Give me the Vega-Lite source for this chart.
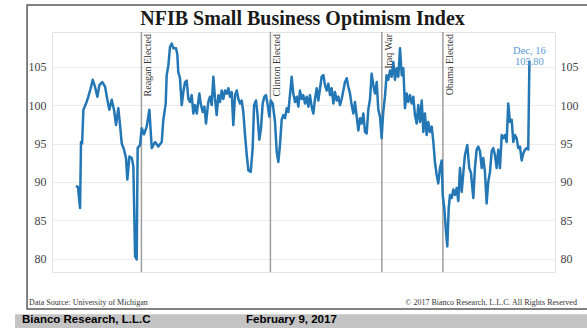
{
  "$schema": "https://vega.github.io/schema/vega-lite/v6.json",
  "width": 503,
  "height": 240,
  "autosize": {"type": "none"},
  "padding": {"left": 52, "top": 32, "right": 32, "bottom": 59},
  "background": "white",
  "config": {
    "view": {"stroke": "#e3e3e3", "strokeWidth": 1},
    "axis": {"labelFont": "Liberation Serif", "labelFontSize": 12, "labelColor": "#444444", "ticks": false, "domain": false, "title": null, "gridColor": "#ececec", "gridWidth": 1}
  },
  "datasets": {
    "nfib": [
      {"year":1974.77,"index":89.5},{"year":1974.95,"index":89.3},{"year":1975.14,"index":86.6},{"year":1975.23,"index":95.2},{"year":1975.33,"index":95.0},{"year":1975.45,"index":99.4},{"year":1975.7,"index":100.2},{"year":1975.91,"index":101.1},{"year":1976.13,"index":102.2},{"year":1976.32,"index":103.3},{"year":1976.53,"index":102.4},{"year":1976.75,"index":101.1},{"year":1976.94,"index":102.6},{"year":1977.21,"index":103.0},{"year":1977.47,"index":102.4},{"year":1977.68,"index":100.7},{"year":1977.87,"index":99.4},{"year":1978.09,"index":100.7},{"year":1978.3,"index":99.4},{"year":1978.49,"index":97.4},{"year":1978.7,"index":99.6},{"year":1978.86,"index":97.4},{"year":1979.02,"index":95.0},{"year":1979.23,"index":94.2},{"year":1979.42,"index":93.1},{"year":1979.54,"index":90.3},{"year":1979.73,"index":93.3},{"year":1979.95,"index":93.1},{"year":1980.1,"index":92.0},{"year":1980.26,"index":80.3},{"year":1980.41,"index":79.9},{"year":1980.5,"index":94.4},{"year":1980.72,"index":94.8},{"year":1980.88,"index":97.0},{"year":1981.09,"index":96.2},{"year":1981.34,"index":97.2},{"year":1981.59,"index":99.4},{"year":1981.81,"index":94.4},{"year":1982.12,"index":95.2},{"year":1982.42,"index":94.6},{"year":1982.74,"index":95.2},{"year":1982.89,"index":98.1},{"year":1983.11,"index":100.2},{"year":1983.2,"index":103.9},{"year":1983.36,"index":105.2},{"year":1983.51,"index":107.6},{"year":1983.67,"index":108.0},{"year":1983.82,"index":107.4},{"year":1984.07,"index":107.4},{"year":1984.19,"index":106.6},{"year":1984.28,"index":104.3},{"year":1984.44,"index":103.5},{"year":1984.6,"index":100.0},{"year":1984.75,"index":101.7},{"year":1984.91,"index":103.0},{"year":1985.06,"index":103.2},{"year":1985.22,"index":100.8},{"year":1985.37,"index":100.4},{"year":1985.53,"index":101.3},{"year":1985.68,"index":98.9},{"year":1985.84,"index":100.0},{"year":1986.0,"index":98.9},{"year":1986.24,"index":101.5},{"year":1986.37,"index":100.2},{"year":1986.55,"index":99.1},{"year":1986.71,"index":99.8},{"year":1986.86,"index":97.6},{"year":1987.07,"index":100.4},{"year":1987.23,"index":101.1},{"year":1987.39,"index":100.0},{"year":1987.54,"index":103.7},{"year":1987.7,"index":100.8},{"year":1987.85,"index":98.7},{"year":1988.01,"index":101.3},{"year":1988.16,"index":100.4},{"year":1988.32,"index":101.9},{"year":1988.47,"index":100.8},{"year":1988.63,"index":101.9},{"year":1988.79,"index":101.5},{"year":1988.94,"index":102.2},{"year":1989.09,"index":101.1},{"year":1989.25,"index":101.7},{"year":1989.4,"index":97.4},{"year":1989.56,"index":101.3},{"year":1989.72,"index":101.9},{"year":1989.87,"index":100.8},{"year":1990.02,"index":100.2},{"year":1990.18,"index":100.6},{"year":1990.33,"index":99.1},{"year":1990.49,"index":96.1},{"year":1990.65,"index":93.5},{"year":1990.8,"index":91.5},{"year":1991.02,"index":91.3},{"year":1991.2,"index":94.4},{"year":1991.33,"index":100.0},{"year":1991.51,"index":100.6},{"year":1991.63,"index":99.1},{"year":1991.82,"index":95.5},{"year":1991.98,"index":97.0},{"year":1992.13,"index":100.2},{"year":1992.29,"index":101.1},{"year":1992.44,"index":101.3},{"year":1992.6,"index":100.0},{"year":1992.75,"index":98.5},{"year":1992.88,"index":100.6},{"year":1993.07,"index":100.2},{"year":1993.28,"index":97.8},{"year":1993.44,"index":93.9},{"year":1993.59,"index":92.6},{"year":1993.74,"index":94.8},{"year":1993.9,"index":98.1},{"year":1994.05,"index":98.7},{"year":1994.21,"index":98.3},{"year":1994.37,"index":99.6},{"year":1994.52,"index":99.1},{"year":1994.67,"index":101.3},{"year":1994.83,"index":103.7},{"year":1994.98,"index":101.5},{"year":1995.14,"index":100.4},{"year":1995.3,"index":101.1},{"year":1995.45,"index":99.8},{"year":1995.6,"index":101.9},{"year":1995.76,"index":100.8},{"year":1995.91,"index":101.3},{"year":1996.07,"index":100.2},{"year":1996.23,"index":101.1},{"year":1996.38,"index":99.8},{"year":1996.53,"index":101.3},{"year":1996.69,"index":99.8},{"year":1996.84,"index":98.9},{"year":1997.0,"index":100.8},{"year":1997.16,"index":102.2},{"year":1997.31,"index":100.6},{"year":1997.47,"index":102.2},{"year":1997.62,"index":103.7},{"year":1997.78,"index":103.9},{"year":1997.93,"index":102.6},{"year":1998.09,"index":101.9},{"year":1998.24,"index":102.8},{"year":1998.4,"index":101.3},{"year":1998.55,"index":102.2},{"year":1998.71,"index":100.2},{"year":1998.86,"index":101.7},{"year":1999.02,"index":100.6},{"year":1999.17,"index":101.1},{"year":1999.33,"index":100.0},{"year":1999.48,"index":100.8},{"year":1999.64,"index":101.9},{"year":1999.79,"index":103.0},{"year":1999.95,"index":103.5},{"year":2000.1,"index":102.4},{"year":2000.26,"index":101.5},{"year":2000.41,"index":100.0},{"year":2000.57,"index":98.9},{"year":2000.72,"index":100.4},{"year":2000.88,"index":98.5},{"year":2001.03,"index":96.7},{"year":2001.19,"index":98.3},{"year":2001.34,"index":97.6},{"year":2001.5,"index":98.9},{"year":2001.65,"index":96.5},{"year":2001.81,"index":96.3},{"year":2001.96,"index":99.4},{"year":2002.12,"index":100.8},{"year":2002.27,"index":104.1},{"year":2002.43,"index":102.6},{"year":2002.58,"index":101.5},{"year":2002.74,"index":103.0},{"year":2002.89,"index":99.4},{"year":2003.05,"index":98.5},{"year":2003.2,"index":95.7},{"year":2003.35,"index":99.1},{"year":2003.51,"index":101.1},{"year":2003.66,"index":103.9},{"year":2003.82,"index":103.3},{"year":2003.98,"index":104.5},{"year":2004.13,"index":103.7},{"year":2004.29,"index":105.6},{"year":2004.44,"index":103.3},{"year":2004.6,"index":104.8},{"year":2004.75,"index":103.7},{"year":2004.91,"index":107.4},{"year":2005.07,"index":103.9},{"year":2005.22,"index":104.8},{"year":2005.37,"index":99.6},{"year":2005.53,"index":101.5},{"year":2005.68,"index":100.4},{"year":2005.84,"index":101.3},{"year":2006.0,"index":100.2},{"year":2006.15,"index":101.1},{"year":2006.3,"index":98.7},{"year":2006.46,"index":97.6},{"year":2006.61,"index":100.0},{"year":2006.77,"index":97.8},{"year":2006.93,"index":100.6},{"year":2007.08,"index":96.5},{"year":2007.23,"index":98.9},{"year":2007.39,"index":96.1},{"year":2007.54,"index":97.8},{"year":2007.7,"index":96.5},{"year":2007.86,"index":97.2},{"year":2008.01,"index":95.2},{"year":2008.16,"index":92.6},{"year":2008.32,"index":90.9},{"year":2008.47,"index":89.8},{"year":2008.63,"index":91.8},{"year":2008.79,"index":92.8},{"year":2008.88,"index":88.3},{"year":2009.03,"index":86.6},{"year":2009.19,"index":83.5},{"year":2009.31,"index":81.6},{"year":2009.44,"index":86.6},{"year":2009.56,"index":88.3},{"year":2009.72,"index":87.9},{"year":2009.87,"index":89.0},{"year":2010.02,"index":88.3},{"year":2010.18,"index":89.2},{"year":2010.33,"index":87.5},{"year":2010.49,"index":91.8},{"year":2010.65,"index":88.7},{"year":2010.8,"index":91.2},{"year":2010.95,"index":93.5},{"year":2011.17,"index":94.8},{"year":2011.35,"index":91.8},{"year":2011.51,"index":91.2},{"year":2011.73,"index":87.9},{"year":2011.88,"index":91.8},{"year":2012.04,"index":94.2},{"year":2012.19,"index":94.6},{"year":2012.35,"index":94.0},{"year":2012.51,"index":91.8},{"year":2012.66,"index":93.1},{"year":2012.81,"index":91.3},{"year":2012.97,"index":87.2},{"year":2013.12,"index":90.0},{"year":2013.28,"index":91.3},{"year":2013.44,"index":94.0},{"year":2013.59,"index":94.4},{"year":2013.74,"index":93.5},{"year":2013.9,"index":91.8},{"year":2014.05,"index":94.2},{"year":2014.21,"index":91.8},{"year":2014.37,"index":96.1},{"year":2014.52,"index":95.7},{"year":2014.67,"index":96.1},{"year":2014.83,"index":95.2},{"year":2014.98,"index":100.2},{"year":2015.14,"index":97.8},{"year":2015.3,"index":98.1},{"year":2015.45,"index":95.2},{"year":2015.6,"index":96.1},{"year":2015.76,"index":95.7},{"year":2015.91,"index":94.4},{"year":2016.07,"index":94.6},{"year":2016.23,"index":92.8},{"year":2016.38,"index":93.7},{"year":2016.53,"index":94.2},{"year":2016.69,"index":94.4},{"year":2016.84,"index":94.2},{"year":2016.95,"index":105.8}
    ],
    "events": [
      {"event": "Reagan Elected", "year": 1980.85},
      {"event": "Clinton Elected", "year": 1992.85},
      {"event": "Iraq War", "year": 2003.22},
      {"event": "Obama Elected", "year": 2008.9}
    ],
    "callout": [
      {"year": 2016.95, "index": 105.8, "label": "Dec, 16|105.80"}
    ]
  },
  "resolve": {"axis": {"y": "independent"}},
  "layer": [
    {
      "data": {"values": [{}]},
      "mark": {"type": "rect", "fill": "transparent", "stroke": "#5a5a5a", "strokeWidth": 1.5},
      "encoding": {
        "x": {"datum": 1970.21, "type": "quantitative", "scale": {"domain": [1972.53, 2019.33], "nice": false, "zero": false}, "axis": null},
        "x2": {"datum": 2023.5},
        "y": {"datum": 113.03, "type": "quantitative", "scale": {"domain": [78.27, 109.52], "nice": false, "zero": false}, "axis": null},
        "y2": {"datum": 73.45}
      }
    },
    {
      "data": {"values": [{}]},
      "mark": {"type": "rect", "fill": "#c4c4c4"},
      "encoding": {
        "x": {"datum": 1969.09, "type": "quantitative", "scale": {"domain": [1972.53, 2019.33], "nice": false, "zero": false}, "axis": null},
        "x2": {"datum": 2023.5},
        "y": {"datum": 72.76, "type": "quantitative", "scale": {"domain": [78.27, 109.52], "nice": false, "zero": false}, "axis": null},
        "y2": {"datum": 70.98}
      }
    },
    {
      "data": {"values": [{}]},
      "mark": {"type": "text", "font": "Liberation Sans", "fontWeight": "bold", "fontSize": 11.5, "color": "#000000", "align": "left", "baseline": "middle"},
      "encoding": {
        "x": {"datum": 1969.74, "type": "quantitative", "scale": {"domain": [1972.53, 2019.33], "nice": false, "zero": false}, "axis": null},
        "y": {"datum": 72.0, "type": "quantitative", "scale": {"domain": [78.27, 109.52], "nice": false, "zero": false}, "axis": null},
        "text": {"value": "Bianco Research, L.L.C"}
      }
    },
    {
      "data": {"values": [{}]},
      "mark": {"type": "text", "font": "Liberation Sans", "fontWeight": "bold", "fontSize": 11.5, "color": "#000000", "align": "left", "baseline": "middle"},
      "encoding": {
        "x": {"datum": 1990.58, "type": "quantitative", "scale": {"domain": [1972.53, 2019.33], "nice": false, "zero": false}, "axis": null},
        "y": {"datum": 72.0, "type": "quantitative", "scale": {"domain": [78.27, 109.52], "nice": false, "zero": false}, "axis": null},
        "text": {"value": "February 9, 2017"}
      }
    },
    {
      "data": {"values": [{}]},
      "mark": {"type": "text", "font": "Liberation Serif", "fontSize": 8, "color": "#333333", "align": "left", "baseline": "middle"},
      "encoding": {
        "x": {"datum": 1970.4, "type": "quantitative", "scale": {"domain": [1972.53, 2019.33], "nice": false, "zero": false}, "axis": null},
        "y": {"datum": 74.23, "type": "quantitative", "scale": {"domain": [78.27, 109.52], "nice": false, "zero": false}, "axis": null},
        "text": {"value": "Data Source: University of Michigan"}
      }
    },
    {
      "data": {"values": [{}]},
      "mark": {"type": "text", "font": "Liberation Serif", "fontSize": 8, "color": "#333333", "align": "right", "baseline": "middle"},
      "encoding": {
        "x": {"datum": 2021.37, "type": "quantitative", "scale": {"domain": [1972.53, 2019.33], "nice": false, "zero": false}, "axis": null},
        "y": {"datum": 74.23, "type": "quantitative", "scale": {"domain": [78.27, 109.52], "nice": false, "zero": false}, "axis": null},
        "text": {"value": "© 2017 Bianco Research, L.L.C. All Rights Reserved"}
      }
    },
    {
      "data": {"values": [{}]},
      "mark": {"type": "text", "font": "Liberation Serif", "fontWeight": "bold", "fontSize": 20, "color": "#1a1a1a", "align": "center", "baseline": "alphabetic"},
      "encoding": {
        "x": {"datum": 1995.84, "type": "quantitative", "scale": {"domain": [1972.53, 2019.33], "nice": false, "zero": false}, "axis": null},
        "y": {"datum": 110.49, "type": "quantitative", "scale": {"domain": [78.27, 109.52], "nice": false, "zero": false}, "axis": null},
        "text": {"value": "NFIB Small Business Optimism Index"}
      }
    },
    {
      "data": {"name": "events"},
      "mark": {"type": "rule", "color": "#9e9e9e", "strokeWidth": 1.5},
      "encoding": {
        "x": {"field": "year", "type": "quantitative", "scale": {"domain": [1972.53, 2019.33], "nice": false, "zero": false}, "axis": null}
      }
    },
    {
      "data": {"name": "nfib"},
      "mark": {"type": "line", "color": "#2477b5", "strokeWidth": 2.5, "strokeJoin": "round"},
      "encoding": {
        "x": {"field": "year", "type": "quantitative", "scale": {"domain": [1972.53, 2019.33], "nice": false, "zero": false},
              "axis": {"values": [1977, 1982, 1987, 1992, 1997, 2002, 2007, 2012, 2017], "format": "d", "grid": true, "labelPadding": 7}},
        "y": {"field": "index", "type": "quantitative", "scale": {"domain": [78.27, 109.52], "nice": false, "zero": false},
              "axis": {"orient": "left", "values": [80, 85, 90, 95, 100, 105], "grid": true, "labelPadding": 6}}
      }
    },
    {
      "data": {"name": "events"},
      "mark": {"type": "text", "angle": 270, "align": "right", "baseline": "top", "dx": -2, "dy": 2, "font": "Liberation Serif", "fontSize": 10, "color": "#333333"},
      "encoding": {
        "x": {"field": "year", "type": "quantitative", "scale": {"domain": [1972.53, 2019.33], "nice": false, "zero": false}, "axis": null},
        "y": {"datum": 109.52, "type": "quantitative", "scale": {"domain": [78.27, 109.52], "nice": false, "zero": false}, "axis": null},
        "text": {"field": "event"}
      }
    },
    {
      "data": {"name": "callout"},
      "mark": {"type": "text", "align": "center", "baseline": "bottom", "dy": -5, "lineBreak": "|", "lineHeight": 11, "font": "Liberation Serif", "fontSize": 10.5, "color": "#5b9bd5"},
      "encoding": {
        "x": {"field": "year", "type": "quantitative", "scale": {"domain": [1972.53, 2019.33], "nice": false, "zero": false}, "axis": null},
        "y": {"field": "index", "type": "quantitative", "scale": {"domain": [78.27, 109.52], "nice": false, "zero": false},
              "axis": {"orient": "right", "values": [80, 85, 90, 95, 100, 105], "grid": false, "labelPadding": 5}},
        "text": {"field": "label"}
      }
    }
  ]
}
